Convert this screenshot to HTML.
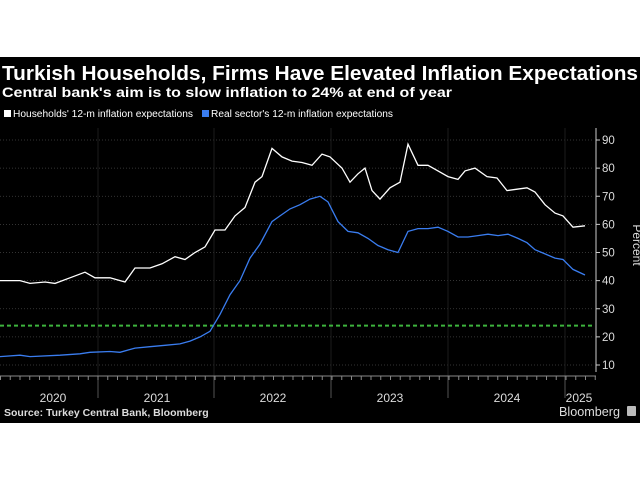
<!DOCTYPE html>
<html><head><meta charset="utf-8"><style>
body{margin:0;background:#fff;width:640px;height:480px;overflow:hidden}
svg{display:block}
text{font-family:"Liberation Sans",sans-serif}
</style></head><body>
<svg id="s" width="640" height="480" xmlns="http://www.w3.org/2000/svg">
<rect x="0" y="57" width="640" height="366" fill="#000"/>
<text x="2" y="80" fill="#fff" font-size="20.5" font-weight="bold" font-family="DejaVu Sans Condensed, Liberation Sans, sans-serif" textLength="636" lengthAdjust="spacingAndGlyphs">Turkish Households, Firms Have Elevated Inflation Expectations</text>
<text x="2" y="97" fill="#fff" font-size="14" font-weight="bold" font-family="DejaVu Sans Condensed, Liberation Sans, sans-serif" textLength="450" lengthAdjust="spacingAndGlyphs">Central bank's aim is to slow inflation to 24% at end of year</text>
<rect x="4" y="110" width="7" height="7" fill="#fff"/>
<text x="13" y="117" fill="#fff" font-size="10" textLength="180" lengthAdjust="spacingAndGlyphs">Households' 12-m inflation expectations</text>
<rect x="202" y="110" width="7" height="7" fill="#3a7df0"/>
<text x="211" y="117" fill="#fff" font-size="10" textLength="182" lengthAdjust="spacingAndGlyphs">Real sector's 12-m inflation expectations</text>
<g id="grid"></g>
<line x1="596" y1="128" x2="596" y2="372" stroke="#ccc" stroke-width="1"/>
<line x1="0" y1="376" x2="596" y2="376" stroke="#888" stroke-width="1"/>
<line x1="0" y1="325.6" x2="594" y2="325.6" stroke="#3db33d" stroke-width="2" stroke-dasharray="4,3"/>
<polyline id="h" fill="none" stroke="#fff" stroke-width="1.3"/>
<polyline id="r" fill="none" stroke="#3a7df0" stroke-width="1.3"/>
<g fill="#ddd" font-size="12">
<text x="53" y="402" text-anchor="middle">2020</text>
<text x="157" y="402" text-anchor="middle">2021</text>
<text x="273" y="402" text-anchor="middle">2022</text>
<text x="390" y="402" text-anchor="middle">2023</text>
<text x="507" y="402" text-anchor="middle">2024</text>
<text x="579" y="402" text-anchor="middle">2025</text>
</g>
<text x="4" y="416" fill="#ddd" font-size="10.5" font-weight="bold" font-family="DejaVu Sans Condensed, Liberation Sans, sans-serif">Source: Turkey Central Bank, Bloomberg</text>
<text x="559" y="416" fill="#ddd" font-size="12.5" textLength="61" lengthAdjust="spacingAndGlyphs">Bloomberg</text>
<rect x="627" y="406" width="9" height="10" fill="#bbb" rx="1"/>
<text transform="translate(633,245) rotate(90)" fill="#ddd" font-size="12" text-anchor="middle">Percent</text>
</svg>
<script>
var Y=v=>365-(v-10)*2.8125;
var g='';
for(var v=10;v<=90;v+=10){g+='<line x1="0" y1="'+Y(v)+'" x2="594" y2="'+Y(v)+'" stroke="#444" stroke-width="0.7" stroke-dasharray="1,2"/>';
g+='<line x1="596" y1="'+Y(v)+'" x2="600" y2="'+Y(v)+'" stroke="#ccc"/>';
g+='<text x="602" y="'+(Y(v)+4)+'" fill="#ddd" font-size="11.5">'+v+'</text>';}
[98,214,331,448,565].forEach(x=>{g+='<line x1="'+x+'" y1="128" x2="'+x+'" y2="376" stroke="#1c1c1c" stroke-width="1"/><line x1="'+x+'" y1="376" x2="'+x+'" y2="398" stroke="#555" stroke-width="1"/>';});
for(var m=0;m<64;m++){var x=-19+9.75*m;if(x>0&&x<596)g+='<line x1="'+x+'" y1="376" x2="'+x+'" y2="380" stroke="#888"/>';}
document.getElementById('grid').innerHTML=g;
var H=[[0,40],[20,40],[30,39],[45,39.5],[55,39],[70,41],[85,43],[95,41],[110,41],[125,39.5],[135,44.5],[150,44.5],[162,46],[175,48.5],[185,47.5],[195,50],[205,52],[215,58],[225,58],[235,63],[245,66],[255,75],[262,77],[272,87],[282,84],[292,82.5],[302,82],[312,81],[322,85],[330,84],[342,80],[350,75],[358,78],[365,80],[372,72],[380,69],[390,73],[400,75],[408,88.5],[418,81],[428,81],[438,79],[448,77],[458,76],[465,79],[475,80],[487,77],[497,76.5],[507,72],[517,72.5],[527,73],[535,71.5],[545,67],[555,64],[563,63],[573,59],[585,59.5]];
var R=[[0,13],[20,13.5],[30,13],[60,13.5],[80,14],[90,14.5],[110,14.8],[120,14.5],[135,16],[150,16.5],[165,17],[180,17.5],[190,18.5],[200,20],[210,22],[220,28],[230,35],[240,40],[250,48],[260,53],[272,61],[280,63],[290,65.5],[300,67],[310,69],[320,70],[328,68],[338,61],[348,57.5],[358,57],[368,55],[378,52.5],[388,51],[398,50],[408,57.5],[418,58.5],[428,58.5],[438,59],[448,57.5],[458,55.5],[468,55.5],[478,56],[488,56.5],[498,56],[508,56.5],[518,55],[527,53.5],[535,51],[545,49.5],[555,48],[563,47.5],[573,44],[585,42]];
var p=a=>a.map(q=>q[0]+','+Y(q[1]).toFixed(1)).join(' ');
document.getElementById('h').setAttribute('points',p(H));
document.getElementById('r').setAttribute('points',p(R));
</script>
</body></html>
